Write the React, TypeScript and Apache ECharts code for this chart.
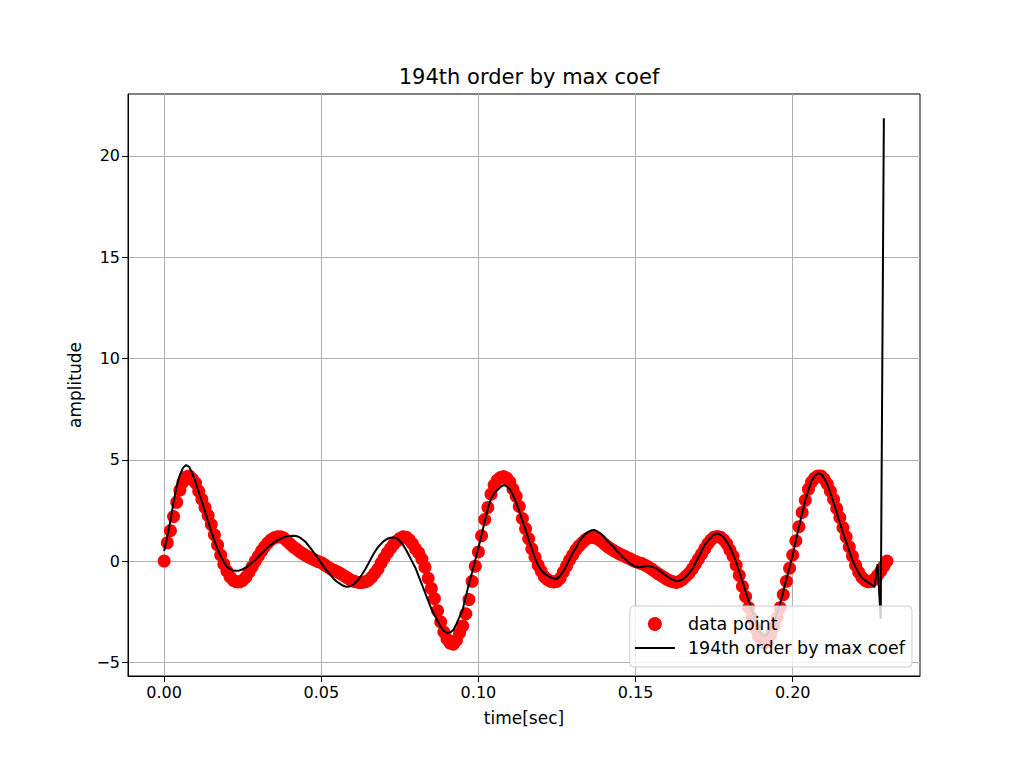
import React, { useEffect, useRef } from "react";
import * as echarts from "echarts";

const TITLE = "194th order by max coef";
const SCATTER_NAME = "data point";
const FIT_NAME = "194th order by max coef";
const X_NAME = "time[sec]";
const Y_NAME = "amplitude";

const SAMPLE_STEP = 0.001; // seconds between samples

// measured data points (amplitude), one per sample
const dataValues = [
  0, 0.9, 1.5, 2.2, 2.9, 3.5, 3.9, 4.15, 4.2, 4.05,
  3.85, 3.45, 3.05, 2.65, 2.25, 1.8, 1.3, 0.8, 0.3, -0.15,
  -0.5, -0.78, -0.95, -1.02, -1.02, -0.95, -0.8, -0.55, -0.28, 0.0,
  0.25, 0.5, 0.72, 0.9, 1.05, 1.15, 1.2, 1.2, 1.15, 1.0,
  0.85, 0.72, 0.6, 0.48, 0.38, 0.28, 0.2, 0.12, 0.05, -0.02,
  -0.08, -0.18, -0.28, -0.38, -0.45, -0.52, -0.6, -0.7, -0.8, -0.9,
  -0.98, -1.02, -1.05, -1.05, -1.02, -0.95, -0.8, -0.6, -0.4, -0.1,
  0.15, 0.4, 0.62, 0.82, 0.98, 1.12, 1.2, 1.18, 1.05, 0.85,
  0.6, 0.4, 0.1, -0.3, -0.85, -1.35, -1.85, -2.45, -3.0, -3.5,
  -3.85, -4.05, -4.1, -3.9, -3.55, -3.2, -2.6, -1.9, -1.0, -0.25,
  0.45, 1.25, 2.05, 2.65, 3.3, 3.75, 4.0, 4.12, 4.17, 4.1,
  3.9, 3.55, 3.2, 2.7, 2.1, 1.6, 1.1, 0.6, 0.2, -0.2,
  -0.5, -0.78, -0.92, -1.0, -1.03, -1.0, -0.85, -0.55, -0.25, 0.05,
  0.3, 0.55, 0.75, 0.9, 1.05, 1.15, 1.18, 1.15, 1.1, 0.98,
  0.85, 0.72, 0.62, 0.52, 0.43, 0.35, 0.28, 0.2, 0.13, 0.05,
  -0.02, -0.08, -0.12, -0.2, -0.28, -0.38, -0.5, -0.6, -0.7, -0.8,
  -0.9, -0.97, -1.02, -1.05, -1.0, -0.9, -0.75, -0.6, -0.4, -0.15,
  0.1, 0.35, 0.6, 0.85, 1.05, 1.18, 1.22, 1.18, 1.05, 0.85,
  0.55, 0.25, -0.2, -0.7, -1.25, -1.75, -2.3, -2.8, -3.3, -3.7,
  -3.95, -4.05, -3.95, -3.65, -3.25, -2.8, -2.3, -1.65, -1.0, -0.35,
  0.3, 1.0, 1.7, 2.4, 3.0, 3.55, 3.9, 4.1, 4.2, 4.2,
  4.05, 3.8, 3.45, 3.05, 2.6, 2.15, 1.65, 1.2, 0.7, 0.25,
  -0.2, -0.55, -0.8, -0.95, -1.02, -1.0, -0.9, -0.7, -0.5, -0.25,
  0.0,
];

// fitted curve (amplitude), one per sample
const fitValues = [
  0.5, 1.2, 2.0, 2.9, 3.7, 4.25, 4.6, 4.74, 4.65, 4.3,
  3.9, 3.4, 2.95, 2.45, 1.95, 1.45, 1.0, 0.6, 0.25, -0.05,
  -0.28, -0.4, -0.47, -0.48, -0.46, -0.4, -0.32, -0.2, -0.07, 0.05,
  0.22, 0.38, 0.52, 0.68, 0.8, 0.92, 1.02, 1.1, 1.17, 1.22,
  1.24, 1.25, 1.24, 1.18, 1.07, 0.95, 0.75, 0.55, 0.35, 0.12,
  -0.1, -0.32, -0.52, -0.7, -0.88, -1.02, -1.12, -1.22, -1.27, -1.25,
  -1.18, -1.05, -0.88, -0.65, -0.4, -0.12, 0.18, 0.45, 0.68, 0.85,
  1.0, 1.1, 1.15, 1.17, 1.12, 1.0, 0.8, 0.55, 0.25, -0.05,
  -0.35, -0.75, -1.15, -1.55, -1.95, -2.35, -2.65, -2.95, -3.25, -3.45,
  -3.55, -3.52, -3.4, -3.1, -2.75, -2.4, -1.75, -1.1, -0.55, 0.05,
  0.65, 1.3, 1.95, 2.6, 3.05, 3.35, 3.5, 3.65, 3.75, 3.7,
  3.55, 3.25, 2.9, 2.45, 2.0, 1.55, 1.05, 0.6, 0.15, -0.2,
  -0.45, -0.62, -0.72, -0.8, -0.86, -0.88, -0.72, -0.5, -0.22, 0.1,
  0.4, 0.65, 0.95, 1.15, 1.32, 1.45, 1.52, 1.53, 1.45, 1.35,
  1.2, 1.0, 0.85, 0.7, 0.5, 0.35, 0.18, 0.05, -0.1, -0.2,
  -0.27, -0.3, -0.29, -0.26, -0.25, -0.27, -0.32, -0.4, -0.52, -0.64,
  -0.75, -0.85, -0.93, -0.98, -0.97, -0.9, -0.78, -0.6, -0.4, -0.12,
  0.18, 0.5, 0.8, 1.0, 1.17, 1.3, 1.37, 1.3, 1.18, 0.95,
  0.7, 0.35, -0.05, -0.5, -1.0, -1.5, -1.95, -2.4, -2.9, -3.3,
  -3.6, -3.7, -3.6, -3.35, -3.0, -2.6, -2.1, -1.5, -0.9, -0.3,
  0.3, 1.0, 1.7, 2.35, 3.0, 3.5, 3.95, 4.2, 4.33, 4.3,
  4.1, 3.8, 3.35, 2.9, 2.4, 1.9, 1.4, 0.95, 0.5, 0.05,
  -0.3, -0.6, -0.82, -0.95, -1.05, -1.15, -1.28, -0.15, -2.85, 21.85,
];

const xTickValues = [0, 0.05, 0.1, 0.15, 0.2];
const yTickValues = [-5, 0, 5, 10, 15, 20];
const X_MIN = -0.0115;
const X_MAX = 0.2405;
const Y_MIN = -5.67;
const Y_MAX = 23.05;

const FONT = "DejaVu Sans";

export default function App() {
  const ref = useRef<HTMLDivElement>(null);

  useEffect(() => {
    if (!ref.current) return;
    const chart = echarts.init(ref.current, undefined, { renderer: "svg" });

    const scatterData = dataValues.map((v, i) => [+(i * SAMPLE_STEP).toFixed(4), v]);
    const fitData = fitValues.map((v, i) => [+(i * SAMPLE_STEP).toFixed(4), v]);

    const tickStyle = { fontFamily: FONT, fontSize: 16, color: "#000" };
    const nameStyle = { fontFamily: FONT, fontSize: 17, color: "#000" };

    chart.setOption({
      animation: false,
      backgroundColor: "#ffffff",
      textStyle: { fontFamily: FONT },
      title: {
        text: TITLE,
        left: 524,
        textAlign: "center",
        top: 61,
        textStyle: { fontFamily: FONT, fontSize: 21, fontWeight: "normal", color: "#000" },
      },
      grid: {
        left: 128,
        right: 104,
        top: 94,
        bottom: 92,
        show: true,
        borderColor: "#000",
        borderWidth: 1,
        backgroundColor: "transparent",
      },
      xAxis: {
        type: "value",
        min: X_MIN,
        max: X_MAX,
        splitNumber: 5,
        name: X_NAME,
        nameLocation: "middle",
        nameGap: 33,
        nameTextStyle: nameStyle,
        axisLine: { show: true, onZero: false, lineStyle: { color: "#000", width: 1 } },
        axisTick: { show: true, length: 6, lineStyle: { color: "#000" }, customValues: xTickValues },
        axisLabel: {
          ...tickStyle,
          margin: 8,
          customValues: xTickValues,
          formatter: (v: number) => v.toFixed(2),
        },
        splitLine: { show: true, lineStyle: { color: "#b0b0b0", width: 1 } },
      },
      yAxis: {
        type: "value",
        min: Y_MIN,
        max: Y_MAX,
        splitNumber: 5,
        name: Y_NAME,
        nameLocation: "middle",
        nameGap: 45,
        nameTextStyle: nameStyle,
        axisLine: { show: true, onZero: false, lineStyle: { color: "#000", width: 1 } },
        axisTick: { show: true, length: 6, lineStyle: { color: "#000" }, customValues: yTickValues },
        axisLabel: {
          ...tickStyle,
          margin: 8,
          customValues: yTickValues,
          formatter: (v: number) => (v < 0 ? "\u2212" + Math.abs(v) : String(v)),
        },
        splitLine: { show: true, lineStyle: { color: "#b0b0b0", width: 1 } },
      },
      legend: {
        orient: "vertical",
        right: 112,
        bottom: 101,
        align: "left",
        backgroundColor: "rgba(255,255,255,0.8)",
        borderColor: "#cccccc",
        borderWidth: 1,
        borderRadius: 4,
        padding: [9, 7, 10, 4],
        itemGap: 6,
        itemWidth: 40,
        itemHeight: 14,
        textStyle: { fontFamily: FONT, fontSize: 17.5, color: "#000", padding: [0, 0, 0, 8] },
        data: [
          { name: SCATTER_NAME, icon: "circle" },
          { name: FIT_NAME, itemStyle: { opacity: 0 } },
        ],
      },
      series: [
        {
          name: SCATTER_NAME,
          type: "scatter",
          data: scatterData,
          symbol: "circle",
          symbolSize: 13,
          itemStyle: { color: "#ff0000", opacity: 1 },
          z: 2,
        },
        {
          name: FIT_NAME,
          type: "line",
          data: fitData,
          showSymbol: false,
          symbol: "none",
          lineStyle: { color: "#000", width: 2 },
          itemStyle: { color: "#000" },
          z: 3,
        },
      ],
    });

    return () => chart.dispose();
  }, []);

  return (
    <div
      ref={ref}
      style={{ position: "absolute", left: 0, top: 0, width: 1024, height: 768, background: "#fff" }}
    />
  );
}
